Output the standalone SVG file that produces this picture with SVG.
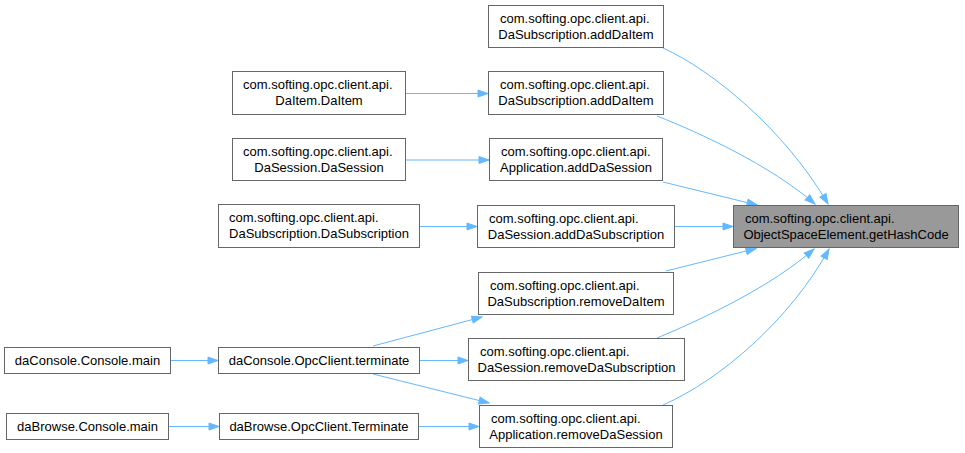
<svg xmlns="http://www.w3.org/2000/svg" width="965" height="453" viewBox="0 0 965 453">
<style>
.box{fill:#ffffff;stroke:#666666;stroke-width:1}
.tgt{fill:#999999;stroke:#666666;stroke-width:1}
text{font-family:"Liberation Sans",Arial,sans-serif;font-size:13px;fill:#000000}
.m{text-anchor:middle}
.s{text-anchor:start}
.e{fill:none;stroke:#63b8ff;stroke-width:1}
</style>
<defs>
<marker id="ah" markerUnits="userSpaceOnUse" markerWidth="11" markerHeight="8" refX="10" refY="3.5" orient="auto" overflow="visible">
<path d="M0,0 L10,3.5 L0,7 z" fill="#63b8ff" stroke="#63b8ff" stroke-width="1"/>
</marker>
</defs>
<rect width="965" height="453" fill="#ffffff"/>
<g id="edges">
<path class="e" marker-end="url(#ah)" d="M663,48 C712,70 785,130 828,204"/>
<path class="e" marker-end="url(#ah)" d="M657,116 C700,133 770,165 815,204"/>
<path class="e" marker-end="url(#ah)" d="M663,182 L757,205"/>
<path class="e" marker-end="url(#ah)" d="M675,226.5 L733,226.5"/>
<path class="e" marker-end="url(#ah)" d="M666,271 L756,248.5"/>
<path class="e" marker-end="url(#ah)" d="M657,338 C705,318 772,286 814,249"/>
<path class="e" marker-end="url(#ah)" d="M663,405 C720,380 790,320 829,249"/>
<path class="e" marker-end="url(#ah)" d="M406,93.5 L488,93.5"/>
<path class="e" marker-end="url(#ah)" d="M406,160 L489,160"/>
<path class="e" marker-end="url(#ah)" d="M420,226.5 L477,226.5"/>
<path class="e" marker-end="url(#ah)" d="M373,346 L482,317"/>
<path class="e" marker-end="url(#ah)" d="M420,360.5 L468,360.5"/>
<path class="e" marker-end="url(#ah)" d="M373,374 L489,403"/>
<path class="e" marker-end="url(#ah)" d="M419,426.5 L479,426.5"/>
<path class="e" marker-end="url(#ah)" d="M171,360.5 L218,360.5"/>
<path class="e" marker-end="url(#ah)" d="M169,426.5 L219,426.5"/>
</g>
<g id="target">
<rect class="tgt" x="733.5" y="205.5" width="225" height="42"/>
<text class="s" x="745" y="223">com.softing.opc.client.api.</text>
<text class="m" x="846" y="239">ObjectSpaceElement.getHashCode</text>
</g>
<g id="n1">
<rect class="box" x="488.5" y="5.5" width="175" height="42"/>
<text class="s" x="500" y="23">com.softing.opc.client.api.</text>
<text class="m" x="576" y="39">DaSubscription.addDaItem</text>
</g>
<g id="n2">
<rect class="box" x="488.5" y="71.5" width="175" height="43"/>
<text class="s" x="500" y="89">com.softing.opc.client.api.</text>
<text class="m" x="576" y="105">DaSubscription.addDaItem</text>
</g>
<g id="n3">
<rect class="box" x="489.5" y="138.5" width="173" height="42"/>
<text class="s" x="501" y="156">com.softing.opc.client.api.</text>
<text class="m" x="576" y="172">Application.addDaSession</text>
</g>
<g id="n4">
<rect class="box" x="477.5" y="205.5" width="197" height="42"/>
<text class="s" x="489" y="223">com.softing.opc.client.api.</text>
<text class="m" x="576" y="239">DaSession.addDaSubscription</text>
</g>
<g id="n5">
<rect class="box" x="478.5" y="272.5" width="195" height="42"/>
<text class="s" x="490" y="290">com.softing.opc.client.api.</text>
<text class="m" x="576" y="306">DaSubscription.removeDaItem</text>
</g>
<g id="n6">
<rect class="box" x="468.5" y="338.5" width="216" height="42"/>
<text class="s" x="480" y="356">com.softing.opc.client.api.</text>
<text class="m" x="576.5" y="372">DaSession.removeDaSubscription</text>
</g>
<g id="n7">
<rect class="box" x="479.5" y="405.5" width="193" height="42"/>
<text class="s" x="491" y="423">com.softing.opc.client.api.</text>
<text class="m" x="576" y="439">Application.removeDaSession</text>
</g>
<g id="n8">
<rect class="box" x="232.5" y="71.5" width="173" height="43"/>
<text class="s" x="243" y="89">com.softing.opc.client.api.</text>
<text class="m" x="319" y="105">DaItem.DaItem</text>
</g>
<g id="n9">
<rect class="box" x="232.5" y="138.5" width="173" height="42"/>
<text class="s" x="243" y="156">com.softing.opc.client.api.</text>
<text class="m" x="319" y="172">DaSession.DaSession</text>
</g>
<g id="n10">
<rect class="box" x="218.5" y="204.5" width="201" height="43"/>
<text class="s" x="229" y="222">com.softing.opc.client.api.</text>
<text class="m" x="319" y="238">DaSubscription.DaSubscription</text>
</g>
<g id="n11">
<rect class="box" x="218.5" y="347.5" width="201" height="26"/>
<text class="m" x="319" y="365">daConsole.OpcClient.terminate</text>
</g>
<g id="n12">
<rect class="box" x="219.5" y="413.5" width="199" height="26"/>
<text class="m" x="319" y="431">daBrowse.OpcClient.Terminate</text>
</g>
<g id="n13">
<rect class="box" x="4.5" y="347.5" width="166" height="26"/>
<text class="m" x="87.5" y="365">daConsole.Console.main</text>
</g>
<g id="n14">
<rect class="box" x="6.5" y="413.5" width="162" height="26"/>
<text class="m" x="87.5" y="431">daBrowse.Console.main</text>
</g>
</svg>
